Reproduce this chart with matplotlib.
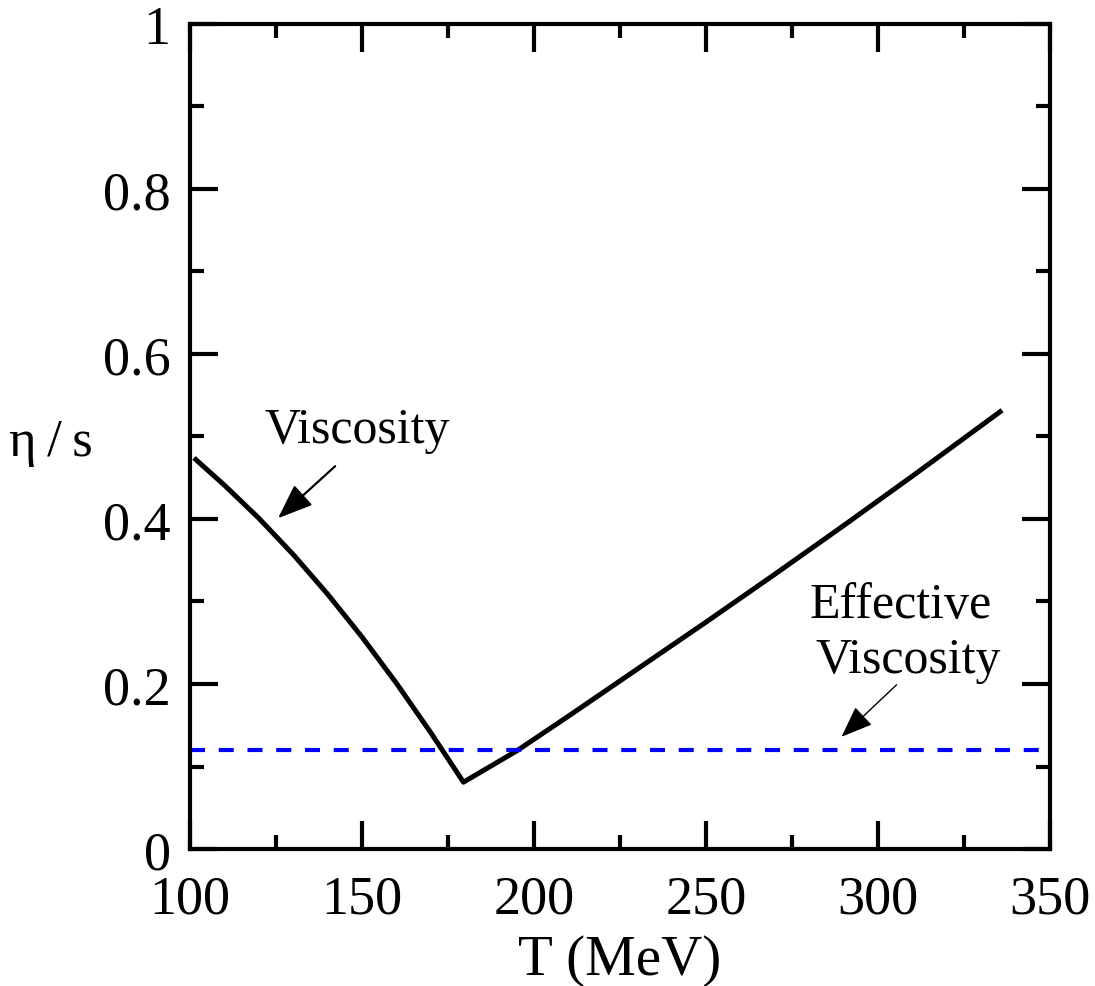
import numpy as np
import matplotlib
matplotlib.use('Agg')
import matplotlib.pyplot as plt
from matplotlib.ticker import MultipleLocator

plt.rcParams['font.family'] = ['Liberation Serif', 'DejaVu Serif']

# Viscosity curve
T_visc = [101.7, 110, 120, 130, 140, 150, 160, 170, 179.5,
          195, 210, 230, 250, 270, 290, 310, 335.5]
eta_visc = [0.472, 0.441, 0.401, 0.357, 0.309, 0.257, 0.201, 0.141, 0.081,
            0.119, 0.161, 0.218, 0.275, 0.333, 0.392, 0.452, 0.530]

# effective viscosity (constant)
T_eff = [100, 350]
eta_eff = [0.12, 0.12]

fig = plt.figure(figsize=(10.95, 9.87), dpi=100)
ax = fig.add_axes([0.1735, 0.1388, 0.7854, 0.8359])

ax.plot(T_visc, eta_visc, color='black', lw=3.6, solid_joinstyle='round')
ax.plot(T_eff, eta_eff, color='#0000ff', lw=3, dashes=(3.6, 3.3))

ax.set_xlim(100, 350)
ax.set_ylim(0, 1)
ax.xaxis.set_major_locator(MultipleLocator(50))
ax.xaxis.set_minor_locator(MultipleLocator(25))
ax.yaxis.set_minor_locator(MultipleLocator(0.1))
ax.set_yticks([0, 0.2, 0.4, 0.6, 0.8, 1])
ax.set_yticklabels(['0', '0.2', '0.4', '0.6', '0.8', '1'])

ax.tick_params(which='both', direction='in', top=True, right=True,
               width=3, labelsize=39)
ax.tick_params(axis='x', pad=18)
ax.tick_params(axis='y', pad=14)
ax.tick_params(which='major', length=20)
ax.tick_params(which='minor', length=10)
for s in ax.spines.values():
    s.set_linewidth(3)

ax.set_xlabel('T (MeV)', fontsize=41, labelpad=7)
ax.text(-0.162, 0.493, 'η\u2009/\u2009s', fontsize=38, transform=ax.transAxes,
        ha='center', va='center')

# annotations
arrow_style = '-|>,head_length=0.9,head_width=0.35'
ax.text(121.8, 0.493, 'Viscosity', fontsize=36)
ax.annotate('', xy=(125.6, 0.401), xytext=(142.2, 0.464),
            arrowprops=dict(arrowstyle=arrow_style, color='black', lw=1.6,
                            mutation_scale=24, shrinkA=0, shrinkB=0))
ax.text(280.2, 0.281, 'Effective', fontsize=36)
ax.text(281.7, 0.2145, 'Viscosity', fontsize=36)
ax.annotate('', xy=(289.4, 0.136), xytext=(305.4, 0.199),
            arrowprops=dict(arrowstyle=arrow_style, color='black', lw=1,
                            mutation_scale=22, shrinkA=0, shrinkB=0))

plt.savefig('out.png', dpi=100)
